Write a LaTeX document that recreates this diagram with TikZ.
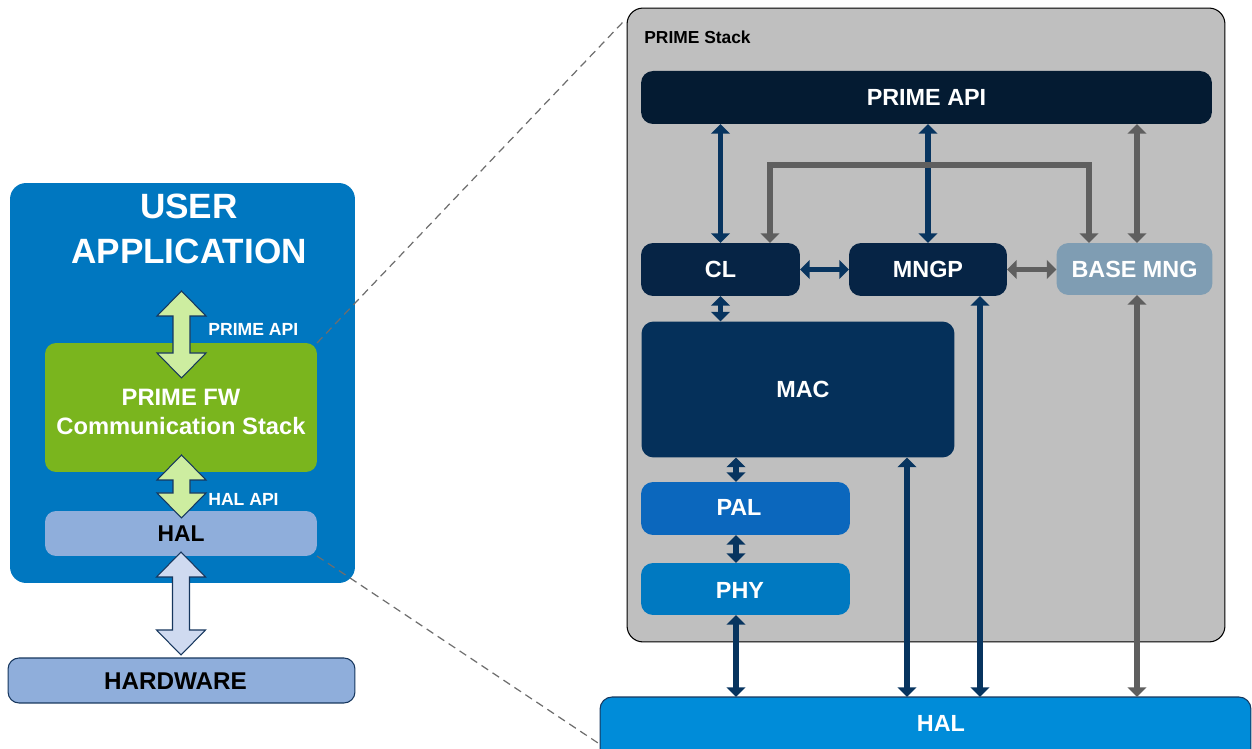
\documentclass[tikz,border=0pt]{standalone}
\usepackage{fontspec}
\setmainfont{Liberation Sans}
\usetikzlibrary{arrows.meta,calc}
\definecolor{userblue}{HTML}{0077C0}
\definecolor{fwgreen}{HTML}{7AB51E}
\definecolor{lgreen}{HTML}{CDEDA0}
\definecolor{halblue}{HTML}{8FAEDB}
\definecolor{lblue}{HTML}{CFDAF0}
\definecolor{stackgray}{HTML}{BFBFBF}
\definecolor{apinavy}{HTML}{041B32}
\definecolor{clnavy}{HTML}{062445}
\definecolor{macnavy}{HTML}{05305A}
\definecolor{palblue}{HTML}{0B67BD}
\definecolor{phyblue}{HTML}{0079C1}
\definecolor{bmnggray}{HTML}{7F9DB3}
\definecolor{halrblue}{HTML}{008CD9}
\definecolor{arrnavy}{HTML}{07345F}
\definecolor{arrgray}{HTML}{5F5F5F}
\definecolor{edgenavy}{HTML}{17375E}
\definecolor{dashgray}{HTML}{6E6E6E}
\tikzset{
  blk/.style={inner sep=0pt, outer sep=0pt, rounded corners=0.24cm},
  wtxt/.style={text=white, font=\fontsize{13.3}{15}\selectfont\bfseries},
  navyarr/.style={draw=arrnavy, line width=3.2pt, {Triangle[width=10.5pt,length=5.5pt]}-{Triangle[width=10.5pt,length=5.5pt]}},
  grayarr/.style={draw=arrgray, line width=3.2pt, {Triangle[width=10.5pt,length=5.5pt]}-{Triangle[width=10.5pt,length=5.5pt]}},
  fatarrow/.style={draw=edgenavy, line width=0.6pt, line join=miter},
  zoomline/.style={draw=dashgray, line width=0.7pt, dash pattern=on 4.5pt off 3pt}
}
\newcommand{\fatarr}[4]{%
  \draw[fatarrow, fill=#4] (#1,#2) -- (#1+24.5,#2+25) -- (#1+8.5,#2+25) -- (#1+8.5,#3-25) -- (#1+24.5,#3-25) -- (#1,#3) -- (#1-24.5,#3-25) -- (#1-8.5,#3-25) -- (#1-8.5,#2+25) -- (#1-24.5,#2+25) -- cycle;}
\begin{document}
\begin{tikzpicture}[x=0.02cm, y=-0.02cm]
\useasboundingbox (0,0) rectangle (1252,749);
% ---------- left part ----------
\node[blk, fill=userblue, rounded corners=0.32cm, minimum width=6.9cm, minimum height=8cm] (ua) at (182.5,383) {};
\node[text=white, align=center, font=\fontsize{20}{25.5}\selectfont\bfseries] (uat) at (189,229) {USER\\APPLICATION};
\node[blk, fill=fwgreen, rounded corners=0.22cm, minimum width=5.44cm, minimum height=2.58cm] (pfw) at (181,407.5) {};
\node[text=white, align=center, font=\fontsize{13.5}{16.4}\selectfont\bfseries] (pfwt) at (181,412) {PRIME FW\\Communication Stack};
\node[blk, fill=halblue, rounded corners=0.22cm, minimum width=5.44cm, minimum height=0.9cm, font=\fontsize{13}{15}\selectfont\bfseries] (halL) at (181,533.5) {HAL};
\node[blk, draw=edgenavy, line width=0.6pt, fill=halblue, rounded corners=0.22cm, minimum width=6.94cm, minimum height=0.9cm] (hw) at (181.5,680.5) {};
\node[font=\fontsize{13.8}{15}\selectfont\bfseries] (hwt) at (175.5,681) {HARDWARE};
\fatarr{181.5}{291}{378}{lgreen}
\fatarr{181.5}{455}{518}{lgreen}
\fatarr{181}{552}{655}{lblue}
\node[anchor=west, text=white, font=\fontsize{10}{12}\selectfont\bfseries, inner sep=0pt] (lapi) at (208,329) {PRIME API};
\node[anchor=west, text=white, font=\fontsize{10}{12}\selectfont\bfseries, inner sep=0pt] (lhapi) at (208,499) {HAL API};
% ---------- right part ----------
\node[blk, draw=black, line width=0.6pt, fill=stackgray, rounded corners=0.32cm, minimum width=11.96cm, minimum height=12.68cm] (stack) at (926,325) {};
\node[anchor=west, inner sep=0pt, font=\fontsize{9.9}{11}\selectfont\bfseries] (stackt) at (644,37) {PRIME Stack};
\node[blk, wtxt, fill=apinavy, minimum width=11.42cm, minimum height=1.06cm] (papi) at (926.5,97.5) {PRIME API};
\node[blk, wtxt, fill=clnavy, minimum width=3.18cm, minimum height=1.06cm] (cl) at (720.5,269.5) {CL};
\node[blk, wtxt, fill=clnavy, minimum width=3.16cm, minimum height=1.06cm] (mngp) at (928,269.5) {MNGP};
\node[blk, wtxt, fill=bmnggray, minimum width=3.12cm, minimum height=1.04cm] (bmng) at (1134.5,269) {BASE MNG};
\node[blk, fill=macnavy, minimum width=6.26cm, minimum height=2.72cm] (mac) at (798,389.5) {};
\node[wtxt] (mact) at (803,389) {MAC};
\node[blk, fill=palblue, minimum width=4.18cm, minimum height=1.06cm] (pal) at (745.5,508.5) {};
\node[wtxt] (palt) at (739,507) {PAL};
\node[blk, fill=phyblue, minimum width=4.18cm, minimum height=1.04cm] (phy) at (745.5,589) {};
\node[wtxt] (phyt) at (740,590) {PHY};
\node[blk, draw=edgenavy, line width=0.6pt, fill=halrblue, minimum width=13.02cm, minimum height=1.56cm] (halR) at (925.5,736) {};
\node[wtxt] (halRt) at (941,723) {HAL};
% helper coordinates
\coordinate (g1) at (770,165);
\coordinate (g2) at (1089,165);
\coordinate (c736) at (736,0);
\coordinate (c907) at (907,0);
\coordinate (c980) at (980,0);
\coordinate (c1137) at (1137,0);
% connectors
\draw[navyarr] (cl.north) -- (cl.north |- papi.south);
\draw[navyarr] (mngp.north) -- (mngp.north |- papi.south);
\draw[grayarr] (bmng.north -| c1137) -- (papi.south -| c1137);
\draw[grayarr, line join=miter] (cl.north -| g1) -- (g1) -- (g2) -- (bmng.north -| g2);
\draw[navyarr] (cl.east) -- (mngp.west);
\draw[grayarr] (mngp.east) -- (mngp.east -| bmng.west);
\draw[navyarr] (cl.south) -- (cl.south |- mac.north);
\draw[navyarr] (mac.south -| c736) -- (pal.north -| c736);
\draw[navyarr] (pal.south -| c736) -- (phy.north -| c736);
\draw[navyarr] (phy.south -| c736) -- (halR.north -| c736);
\draw[navyarr] (mac.south -| c907) -- (halR.north -| c907);
\draw[navyarr] (mngp.south -| c980) -- (halR.north -| c980);
\draw[grayarr] (bmng.south -| c1137) -- (halR.north -| c1137);
% zoom lines
\coordinate (d1) at (624,21);
\coordinate (d2) at (598,743);
\draw[zoomline] (pfw.north east) -- (d1);
\draw[zoomline] (halL.south east) -- (d2);
\end{tikzpicture}
\end{document}
